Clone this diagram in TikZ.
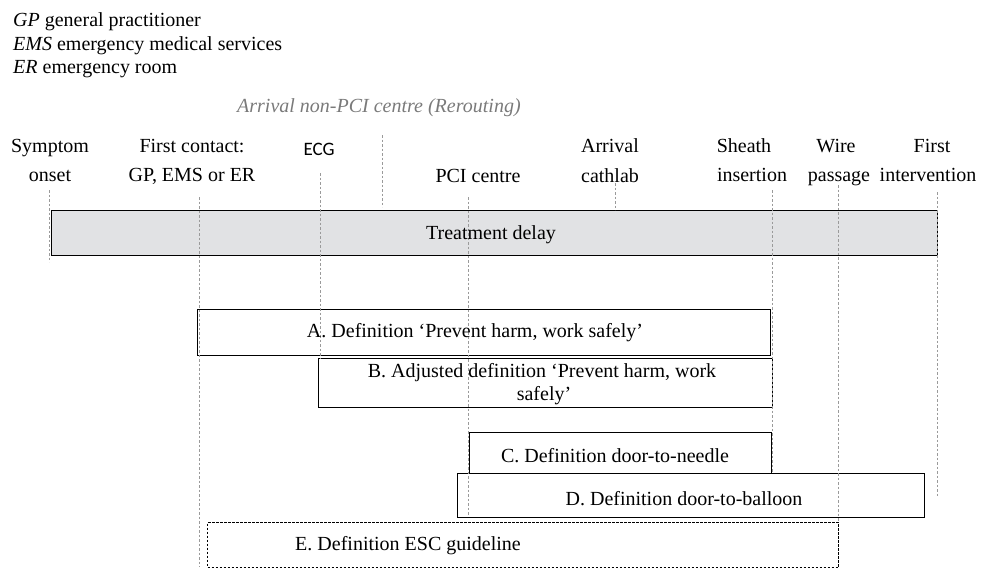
\documentclass[tikz,border=0pt]{standalone}
\usepackage{fontspec}
\setmainfont{Liberation Serif}
\newfontfamily\ecgfont{Carlito}
\definecolor{delaygray}{HTML}{E1E2E4}
\definecolor{guidegray}{HTML}{9A9A9A}
\definecolor{notegray}{HTML}{7A7A7A}
\begin{document}
\begin{tikzpicture}[x=1pt,y=-1pt,
  font=\fontsize{20}{24}\selectfont,
  guide/.style={draw=guidegray, line width=0.8pt, dash pattern=on 2.5pt off 2pt},
  box/.style={draw=black, line width=1.1pt, inner sep=0pt, anchor=north west},
  dbox/.style={box, dash pattern=on 2.5pt off 1.5pt},
  lbl/.style={anchor=base, inner sep=0pt},
  lbw/.style={anchor=base west, inner sep=0pt}]
\useasboundingbox (0,0) rectangle (1000,571);

% legend
\node[lbw] (lgp) at (13,26) {\textit{GP} general practitioner};
\node[lbw] (lems) at (13,50) {\textit{EMS} emergency medical services};
\node[lbw] (ler) at (13,73) {\textit{ER} emergency room};
\node[lbw, text=notegray, font=\fontsize{20}{24}\selectfont\itshape] (nonpci) at (237,112) {Arrival non-PCI centre (Rerouting)};

% boxes
\node[box, fill=delaygray, minimum width=886pt, minimum height=45pt] (delay) at (51,210) {};
\node[box, minimum width=573pt, minimum height=46pt] (boxA) at (197,309) {};
\node[box, minimum width=454pt, minimum height=49pt] (boxB) at (318,358) {};
\node[box, minimum width=302pt, minimum height=41pt] (boxC) at (469,432) {};
\node[box, minimum width=467pt, minimum height=44pt] (boxD) at (457,473) {};
\node[dbox, minimum width=631pt, minimum height=45pt] (boxE) at (207,522) {};

% guide lines
\coordinate (s1) at (49,190);  \coordinate (s2) at (49,262);
\coordinate (f1) at (199,197); \coordinate (f2) at (199,567);
\coordinate (e1) at (320,173); \coordinate (e2) at (320,358);
\coordinate (n1) at (382,135); \coordinate (n2) at (382,207);
\coordinate (p1) at (468,197); \coordinate (p2) at (468,515);
\coordinate (c1) at (615,183); \coordinate (c2) at (615,210);
\coordinate (h1) at (772,190); \coordinate (h2) at (772,473);
\coordinate (w1) at (838,185); \coordinate (w2) at (838,522);
\coordinate (i1) at (937,192); \coordinate (i2) at (937,497);
\foreach \a/\b in {s1/s2,f1/f2,e1/e2,n1/n2,p1/p2,c1/c2,h1/h2,w1/w2,i1/i2}
  \draw[guide] (\a) -- (\b);

% box texts
\node[lbl] (tdelay) at (491,239) {Treatment delay};
\node[lbl] (tA) at (475,337) {A. Definition ‘Prevent harm, work safely’};
\node[lbl] (tB1) at (542,377) {B. Adjusted definition ‘Prevent harm, work};
\node[lbl] (tB2) at (544,400) {safely’};
\node[lbl] (tC) at (615,462) {C. Definition door-to-needle};
\node[lbl] (tD) at (684,505) {D. Definition door-to-balloon};
\node[lbl] (tE) at (408,550) {E. Definition ESC guideline};

% timeline labels
\node[lbl] (sym1) at (50,152) {Symptom};
\node[lbl] (sym2) at (50,181) {onset};
\node[lbl] (fc1) at (192,152) {First contact:};
\node[lbl] (fc2) at (192,181) {GP, EMS or ER};
\node[lbl, font=\fontsize{19}{23}\ecgfont] (ecg) at (319,155) {ECG};
\node[lbl] (pci) at (478,182) {PCI centre};
\node[lbl] (arr1) at (610,152) {Arrival};
\node[lbl] (arr2) at (610,182) {cathlab};
\node[lbl] (sh1) at (744,152) {Sheath};
\node[lbl] (sh2) at (752,181) {insertion};
\node[lbl] (wi1) at (836,152) {Wire};
\node[lbl] (wi2) at (839,181) {passage};
\node[lbl] (fi1) at (932,152) {First};
\node[lbl] (fi2) at (928,181) {intervention};
\end{tikzpicture}
\end{document}
